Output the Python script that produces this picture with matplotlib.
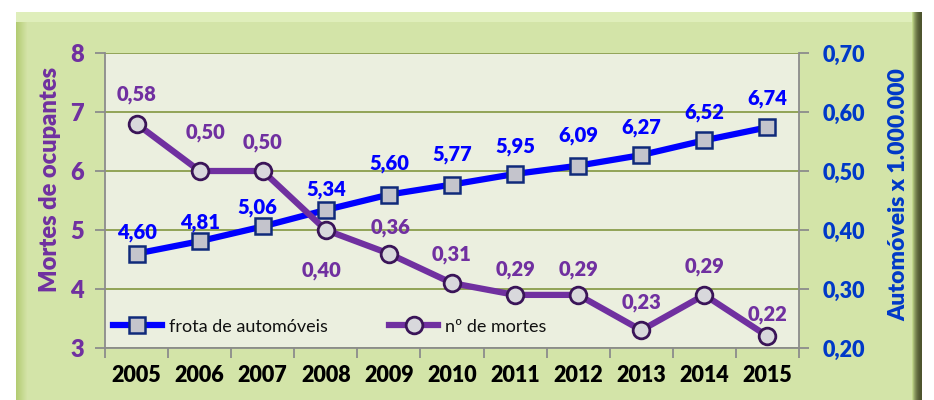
import matplotlib
matplotlib.use("Agg")
import matplotlib.pyplot as plt
from matplotlib.patches import Rectangle
from matplotlib.ticker import FixedLocator, FuncFormatter
import numpy as np

anos = ["2005", "2006", "2007", "2008", "2009", "2010", "2011", "2012", "2013", "2014", "2015"]
frota = [4.60, 4.81, 5.06, 5.34, 5.60, 5.77, 5.95, 6.09, 6.27, 6.52, 6.74]
mortes = [0.58, 0.50, 0.50, 0.40, 0.36, 0.31, 0.29, 0.29, 0.23, 0.29, 0.22]

# label offsets in pixels (dx, dy)
off_frota = [(0, 21), (0, 19), (-5, 19), (0, 20), (0, 31), (0, 30), (0, 27), (0, 30), (0, 28), (0, 28), (0, 29)]
off_mortes = [(0, 29), (6, 39), (0, 28), (-4, -40), (2, 26), (0, 29), (0, 25), (0, 25), (0, 28), (0, 28), (0, 22)]

W, H = 934, 400
fig = plt.figure(figsize=(W / 100, H / 100), dpi=100)
fig.patch.set_facecolor("white")

def px(x, y, w, h, **kw):
    fig.patches.append(Rectangle((x / W, 1 - (y + h) / H), w / W, h / H,
                                 transform=fig.transFigure, zorder=-5, **kw))

# bevelled frame
px(16, 12, 906, 400, facecolor="#c2d88a", edgecolor="none")
px(16, 12, 906, 10, facecolor="#dfeebb", edgecolor="none")
for i in range(10):
    c = np.array([0.30, 0.33, 0.18]) + (np.array([0.76, 0.85, 0.55]) - np.array([0.30, 0.33, 0.18])) * (1 - i / 9) ** 2
    px(912 + i, 12, 1, 400, facecolor=tuple(np.clip(c, 0, 1)), edgecolor="none")
for i in range(12):
    c = np.array([0.70, 0.80, 0.45]) + (np.array([0.83, 0.89, 0.66]) - np.array([0.70, 0.80, 0.45])) * (i / 11)
    px(16 + i, 22, 1, 400, facecolor=tuple(c), edgecolor="none")
px(28, 22, 884, 400, facecolor="#d3e4a8", edgecolor="none")

ax = fig.add_axes([105 / W, 52 / H, 694 / W, 295 / H])
ax.set_facecolor("#ebefdf")
x = np.arange(len(anos))

ax.set_xlim(-0.5, len(anos) - 0.5)
ax.set_ylim(3, 8)
ax.set_yticks([3, 4, 5, 6, 7, 8])
ax.yaxis.grid(True, color="#8a9e4c", linewidth=1.3)
ax.set_axisbelow(True)

purple = "#7030a0"
blue = "#0000ff"
dblue = "#0039c8"
grey = "#8c8c8c"

for s in ["left", "right", "bottom"]:
    ax.spines[s].set_color(grey)
    ax.spines[s].set_linewidth(1.3)
ax.spines["top"].set_visible(False)

ax.xaxis.set_major_locator(FixedLocator(np.arange(-0.5, len(anos), 1.0)))
ax.xaxis.set_minor_locator(FixedLocator(x))
ax.set_xticklabels([])
ax.set_xticklabels(anos, minor=True)
ax.tick_params(axis="x", which="major", direction="out", length=7, color=grey, width=1.3)
ax.tick_params(axis="x", which="minor", length=0, pad=12)
for t in ax.get_xticklabels(minor=True):
    t.set_fontfamily("Lato")
    t.set_fontweight("heavy")
    t.set_fontsize(15.5)
    t.set_color("black")

ax.tick_params(axis="y", direction="out", length=7, color=grey, width=1.3,
               labelcolor=purple, labelsize=17, pad=8)
for t in ax.get_yticklabels():
    t.set_fontfamily("Lato")
    t.set_fontweight("heavy")

ax.set_ylabel("Mortes de ocupantes", color=purple, fontsize=17, fontweight="heavy",
              fontfamily="Lato")
ax.yaxis.set_label_coords(-0.063, 0.57)

ax2 = ax.twinx()
ax2.set_ylim(0.2, 0.7)
ax2.set_yticks([0.2, 0.3, 0.4, 0.5, 0.6, 0.7])
ax2.yaxis.set_major_formatter(FuncFormatter(lambda v, p: f"{v:.2f}".replace(".", ",")))
ax2.tick_params(axis="y", direction="out", length=7, color=grey, width=1.3,
                labelcolor=dblue, labelsize=15.5, pad=10)
for t in ax2.get_yticklabels():
    t.set_fontfamily("Lato")
    t.set_fontweight("heavy")
for s in ax2.spines.values():
    s.set_visible(False)
ax2.set_ylabel("Automóveis x 1.000.000", color=dblue, fontsize=16.5, fontweight="heavy",
               fontfamily="Lato")
ax2.yaxis.set_label_coords(1.128, 0.519)

l1, = ax.plot(x, frota, color=blue, linewidth=4.5, marker="s", markersize=11,
              markerfacecolor="#c4c4cc", markeredgecolor="#102a7a", markeredgewidth=1.8,
              label="frota de automóveis", zorder=4)
l2, = ax2.plot(x, mortes, color=purple, linewidth=4.5, marker="o", markersize=12,
               markerfacecolor="#d8d8dc", markeredgecolor="#3a1458", markeredgewidth=2,
               label="nº de mortes", zorder=4)

for xi, v, (dx, dy) in zip(x, frota, off_frota):
    ax.annotate(f"{v:.2f}".replace(".", ","), (xi, v), xytext=(dx, dy), textcoords="offset pixels",
                ha="center", va="center", color=blue, fontsize=14.5, fontweight="heavy",
                fontfamily="Lato", zorder=6)
for xi, v, (dx, dy) in zip(x, mortes, off_mortes):
    ax2.annotate(f"{v:.2f}".replace(".", ","), (xi, v), xytext=(dx, dy), textcoords="offset pixels",
                 ha="center", va="center", color=purple, fontsize=14.5, fontweight="heavy",
                 fontfamily="Lato", zorder=6)

leg = ax2.legend(handles=[l1, l2], loc="lower left", bbox_to_anchor=(-0.012, -0.01),
                 frameon=False, ncol=2, handlelength=2.7, handletextpad=0.4,
                 columnspacing=3.4, prop={"family": "Lato", "size": 13})
for t in leg.get_texts():
    t.set_color("#111111")

fig.savefig("out.png", dpi=100)
